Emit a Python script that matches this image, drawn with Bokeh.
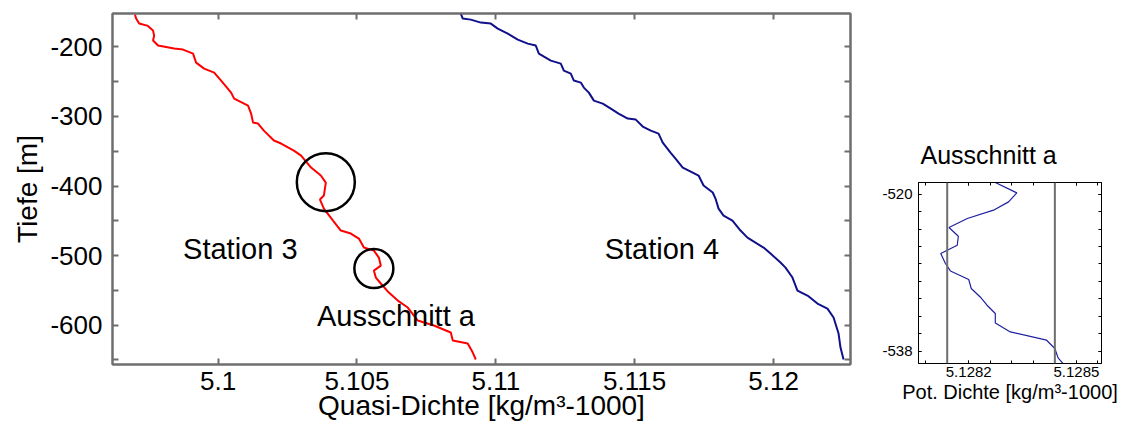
from bokeh.plotting import figure
from bokeh.layouts import row
from bokeh.models import (Range1d, LinearAxis, FixedTicker, CustomJSTickFormatter,
                          Label, Span)
from bokeh.embed import file_html
from bokeh.resources import INLINE

FONT = "Liberation Sans"

# ---------------- data ----------------
st3_dens = [5.09701, 5.09705, 5.09716, 5.09745, 5.09766, 5.09770, 5.09766, 5.09784, 5.09842, 5.09874,
            5.09910, 5.09921, 5.09950, 5.09986, 5.10011, 5.10047, 5.10058, 5.10108, 5.10119, 5.10126,
            5.10144, 5.10165, 5.10201, 5.10227, 5.10273, 5.10299, 5.10335, 5.10370, 5.10388, 5.10381,
            5.10367, 5.10381, 5.10414, 5.10442, 5.10478, 5.10507, 5.10525, 5.10561, 5.10579, 5.10586,
            5.10561, 5.10568, 5.10586, 5.10615, 5.10647, 5.10683, 5.10719, 5.10777, 5.10838, 5.10845,
            5.10899, 5.10917, 5.10928]
st3_depth = [-153.6, -159.3, -166.5, -169.4, -176.6, -183.8, -190.9, -198.1, -202.4, -203.9,
             -209.6, -222.6, -231.2, -236.9, -248.4, -265.7, -274.3, -284.3, -295.8, -308.8,
             -310.2, -320.3, -334.6, -338.9, -349.0, -356.2, -373.4, -384.9, -395.0, -413.7,
             -419.4, -432.4, -449.6, -464.0, -468.3, -475.5, -488.4, -492.8, -502.8, -514.3,
             -521.5, -531.5, -540.1, -553.1, -564.6, -574.6, -593.3, -600.5, -610.5, -622.0,
             -626.3, -639.3, -649.3]

st4_dens = [5.10874, 5.10881, 5.10910, 5.10946, 5.10982, 5.11007, 5.11043, 5.11079, 5.11115, 5.11144,
            5.11155, 5.11198, 5.11234, 5.11245, 5.11270, 5.11281, 5.11306, 5.11317, 5.11335, 5.11353,
            5.11385, 5.11414, 5.11442, 5.11475, 5.11504, 5.11529, 5.11558, 5.11586, 5.11601, 5.11629,
            5.11647, 5.11673, 5.11709, 5.11730, 5.11748, 5.11781, 5.11791, 5.11802, 5.11820, 5.11852,
            5.11881, 5.11906, 5.11964, 5.11989, 5.12025, 5.12043, 5.12068, 5.12086, 5.12122, 5.12158,
            5.12194, 5.12216, 5.12234, 5.12241, 5.12252]
st4_depth = [-152.1, -159.3, -160.8, -165.1, -166.5, -173.7, -180.9, -189.5, -195.3, -198.1,
             -209.6, -219.7, -224.0, -234.1, -238.4, -248.4, -251.3, -258.5, -265.7, -277.2,
             -281.5, -288.7, -295.8, -303.0, -304.5, -314.5, -320.3, -324.6, -337.5, -351.9,
             -360.5, -373.4, -380.6, -384.9, -399.3, -409.3, -418.0, -432.4, -442.4, -449.6,
             -464.0, -474.1, -488.4, -497.1, -510.0, -517.2, -531.5, -550.2, -557.4, -568.9,
             -576.1, -589.0, -612.0, -632.1, -649.3]

inset_dens = [5.128274, 5.128334, 5.128311, 5.128269, 5.128196, 5.128145, 5.128171, 5.128168,
              5.128122, 5.128135, 5.128149, 5.128200, 5.128207, 5.128232, 5.128251, 5.128274,
              5.128274, 5.128316, 5.128417, 5.128440, 5.128449, 5.128463]
inset_depth = [-518.66, -519.85, -520.88, -521.83, -522.79, -523.82, -524.82, -525.85,
               -526.80, -527.95, -528.80, -529.78, -530.81, -531.78, -532.73, -533.68,
               -534.76, -535.79, -536.74, -537.69, -538.77, -539.42]
inset_marks = [5.12814, 5.12844]

circle_dens = [5.10388, 5.10561]
circle_depth = [-394.5, -518.5]

station_labels = ["Station 3", "Station 4", "Ausschnitt a"]
station_label_x = [5.09874, 5.11392, 5.10356]
station_label_y = [-491.2, -491.2, -586.1]

main_xticks = [5.1, 5.105, 5.11, 5.115, 5.12]
main_yticks = [-650, -600, -550, -500, -450, -400, -350, -300, -250, -200]
inset_xticks = [5.1282, 5.1285]
inset_xminor = [5.12808, 5.12814, 5.1282, 5.12826, 5.12832, 5.12838, 5.12844, 5.1285, 5.12856]
inset_yticks = [-538, -520]
inset_yminor = [-538, -536, -534, -532, -530, -528, -526, -524, -522, -520]

blank = CustomJSTickFormatter(code="return '';")


def style(ax, color, width, tick_in, minor=False):
    ax.axis_line_color = color
    ax.axis_line_width = width
    ax.major_tick_line_color = color
    ax.major_tick_line_width = width
    ax.major_tick_in = tick_in
    ax.major_tick_out = 0
    if minor:
        ax.minor_tick_line_color = color
        ax.minor_tick_line_width = width
        ax.minor_tick_in = tick_in
        ax.minor_tick_out = 0
    else:
        ax.minor_tick_line_color = None
    ax.major_label_text_font = FONT
    ax.major_label_text_color = "black"
    ax.axis_label_text_font = FONT
    ax.axis_label_text_font_style = "normal"
    ax.axis_label_text_color = "black"


# ---------------- main plot ----------------
AX = "#6e6e6e"
p = figure(width=870, height=428, x_range=Range1d(5.0962, 5.12277), y_range=Range1d(-656.5, -152),
           output_backend="svg", toolbar_location=None,
           x_axis_location=None, y_axis_location=None,
           min_border_left=112, min_border_right=20, min_border_top=13, min_border_bottom=64)
p.frame_align = False
p.xgrid.visible = False
p.ygrid.visible = False
p.outline_line_color = AX
p.outline_line_width = 2
p.background_fill_color = "white"
p.border_fill_color = "white"

xfmt = CustomJSTickFormatter(code="return parseFloat(tick.toFixed(4)).toString();")
yfmt = CustomJSTickFormatter(code="var t = Math.round(tick); return (t % 100 === 0) ? t.toString() : '';")

bottom = LinearAxis(ticker=FixedTicker(ticks=main_xticks), formatter=xfmt,
                    axis_label="Quasi-Dichte [kg/m³-1000]")
left = LinearAxis(ticker=FixedTicker(ticks=main_yticks), formatter=yfmt, axis_label="Tiefe [m]")
top = LinearAxis(ticker=FixedTicker(ticks=main_xticks), formatter=blank)
right = LinearAxis(ticker=FixedTicker(ticks=main_yticks), formatter=blank)
for ax in [bottom, left, top, right]:
    style(ax, AX, 2, 6)
for ax in [bottom, left]:
    ax.major_label_text_font_size = "26px"
    ax.axis_label_text_font_size = "28px"
bottom.major_label_standoff = 7
bottom.axis_label_standoff = -3
left.major_label_standoff = 10
left.axis_label_standoff = 4
top.major_label_standoff = 0
right.major_label_standoff = 0
p.add_layout(bottom, "below")
p.add_layout(left, "left")
p.add_layout(top, "above")
p.add_layout(right, "right")

p.line(st3_dens, st3_depth, line_color="#ff0000", line_width=2)
p.line(st4_dens, st4_depth, line_color="#10108a", line_width=2)
p.scatter(circle_dens, circle_depth, marker="circle", size=[58, 39], fill_color=None,
          line_color="black", line_width=2.5)

for t, x, y in zip(station_labels, station_label_x, station_label_y):
    p.add_layout(Label(x=x, y=y, text=t, text_font=FONT, text_font_size="29px",
                       text_color="black", text_baseline="alphabetic", text_align="left"))

# ---------------- inset ----------------
q = figure(width=275, height=428, x_range=Range1d(5.12806, 5.12857), y_range=Range1d(-539.41, -518.66),
           output_backend="svg", toolbar_location=None,
           x_axis_location=None, y_axis_location=None,
           min_border_left=48, min_border_right=44, min_border_top=182, min_border_bottom=65,
           title="Ausschnitt a")
q.frame_align = False
q.xgrid.visible = False
q.ygrid.visible = False
q.outline_line_color = "black"
q.outline_line_width = 1
q.border_fill_color = "white"
q.title.text_font = FONT
q.title.text_font_size = "25px"
q.title.text_font_style = "normal"
q.title.text_color = "black"
q.title.align = "left"
q.title.offset = 2
q.title.standoff = 28

qxfmt = CustomJSTickFormatter(code="return tick.toFixed(4);")
qyfmt = CustomJSTickFormatter(code="return Math.round(tick).toString();")
qbottom = LinearAxis(ticker=FixedTicker(ticks=inset_xticks, minor_ticks=inset_xminor), formatter=qxfmt,
                     axis_label="Pot. Dichte [kg/m³-1000]")
qleft = LinearAxis(ticker=FixedTicker(ticks=inset_yticks, minor_ticks=inset_yminor), formatter=qyfmt)
qtop = LinearAxis(ticker=FixedTicker(ticks=inset_xticks, minor_ticks=inset_xminor), formatter=blank)
qright = LinearAxis(ticker=FixedTicker(ticks=inset_yticks, minor_ticks=inset_yminor), formatter=blank)
for ax in [qbottom, qleft, qtop, qright]:
    style(ax, "black", 1, 3, minor=True)
    ax.major_label_standoff = 0
qbottom.major_label_text_font_size = "15px"
qleft.major_label_text_font_size = "15px"
qbottom.major_label_standoff = 3
qleft.major_label_standoff = 6
qbottom.axis_label_text_font_size = "20px"
qbottom.axis_label_standoff = 1
q.add_layout(qbottom, "below")
q.add_layout(qleft, "left")
q.add_layout(qtop, "above")
q.add_layout(qright, "right")

for m in inset_marks:
    q.add_layout(Span(location=m, dimension="height", line_color="#6e6e6e", line_width=2))
q.line(inset_dens, inset_depth, line_color="#2020a0", line_width=1.2)

layout = row(p, q)
open("out.html", "w").write(file_html(layout, INLINE))
